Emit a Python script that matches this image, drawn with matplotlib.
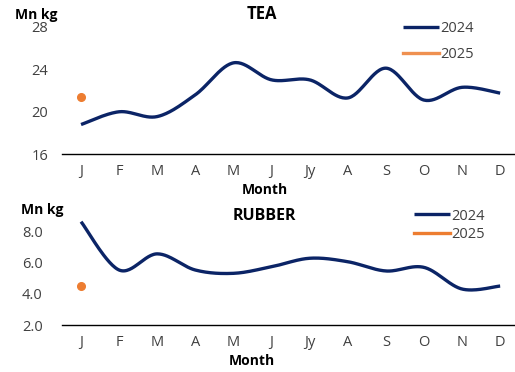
import numpy as np
import matplotlib
matplotlib.use("Agg")
import matplotlib.pyplot as plt

plt.rcParams['font.family'] = ['Open Sans', 'DejaVu Sans']

months = ["J", "F", "M", "A", "M", "J", "Jy", "A", "S", "O", "N", "D"]

tea_2024 = [18.8, 20.0, 19.55, 21.6, 24.6, 23.0, 23.0, 21.3, 24.1, 21.1, 22.3, 21.75]
tea_2025 = [21.4]

rubber_2024 = [8.6, 5.52, 6.55, 5.52, 5.31, 5.73, 6.27, 6.05, 5.46, 5.69, 4.31, 4.5]
rubber_2025 = [4.52]

tea_ticks = [16, 20, 24, 28]
rubber_ticks = [2.0, 4.0, 6.0, 8.0]

NAVY = "#0B2466"
ORANGE = "#ED7D31"
TEXT = "#404040"

W, H = 515, 372


def smooth(y, n=30):
    """Catmull-Rom curve through the points (x = 0..len-1)."""
    y = np.asarray(y, dtype=float)
    x = np.arange(len(y), dtype=float)
    px = np.concatenate([[x[0]], x, [x[-1]]])
    py = np.concatenate([[y[0]], y, [y[-1]]])
    xs, ys = [], []
    for i in range(1, len(px) - 2):
        t = np.linspace(0, 1, n, endpoint=False)
        for arr, out in ((px, xs), (py, ys)):
            p0, p1, p2, p3 = arr[i - 1], arr[i], arr[i + 1], arr[i + 2]
            out.append(0.5 * ((2 * p1) + (-p0 + p2) * t
                              + (2 * p0 - 5 * p1 + 4 * p2 - p3) * t ** 2
                              + (-p0 + 3 * p1 - 3 * p2 + p3) * t ** 3))
    xs.append([x[-1]])
    ys.append([y[-1]])
    return np.concatenate(xs), np.concatenate(ys)


def px_axes(left, top, right, bottom):
    return [left / W, 1 - bottom / H, (right - left) / W, (bottom - top) / H]


fig = plt.figure(figsize=(W / 100, H / 100), dpi=100)

ax1 = fig.add_axes(px_axes(62, 26.7, 515, 154.3))
ax2 = fig.add_axes(px_axes(62, 215.4, 515, 325.3))

spacing = 38.1
xmax = -0.5 + 453 / spacing


def style(ax, ticks, ylim, fmt, ypad):
    for s in ("top", "right", "left"):
        ax.spines[s].set_visible(False)
    ax.spines["bottom"].set_color("black")
    ax.spines["bottom"].set_linewidth(1.0)
    ax.set_xlim(-0.5, xmax)
    ax.set_ylim(*ylim)
    ax.set_xticks(range(len(months)))
    ax.set_xticklabels(months)
    ax.set_yticks(ticks)
    ax.set_yticklabels([fmt.format(t) for t in ticks])
    ax.tick_params(axis="x", length=0, pad=7, labelsize=10.5, labelcolor=TEXT)
    ax.tick_params(axis="y", length=0, pad=ypad, labelsize=10.5, labelcolor=TEXT)
    ax.patch.set_alpha(0)


style(ax1, tea_ticks, (16, 28), "{:.0f}", 10)
style(ax2, rubber_ticks, (2, 9), "{:.1f}", 14)

sx, sy = smooth(tea_2024)
ax1.plot(sx, sy, color=NAVY, lw=2.4, solid_capstyle="butt", label="2024")
ax1.plot(range(len(tea_2025)), tea_2025, "o", color=ORANGE, ms=5.5, label="_nolegend_")
ax1.plot([], [], color=ORANGE, lw=2.4, alpha=0.85, label="2025")

sx, sy = smooth(rubber_2024)
ax2.plot(sx, sy, color=NAVY, lw=2.4, solid_capstyle="butt", label="2024")
ax2.plot(range(len(rubber_2025)), rubber_2025, "o", color=ORANGE, ms=5.5, label="_nolegend_")
ax2.plot([], [], color=ORANGE, lw=2.4, label="2025")

leg_kw = dict(frameon=False, fontsize=10.5, handlelength=2.45, handletextpad=0.1,
              borderpad=0, borderaxespad=0, labelcolor=TEXT)
ax1.legend(loc="upper left", bbox_to_anchor=(403 / W, 1 - 21 / H),
           bbox_transform=fig.transFigure, labelspacing=0.75, **leg_kw)
ax2.legend(loc="upper left", bbox_to_anchor=(414 / W, 1 - 208.5 / H),
           bbox_transform=fig.transFigure, labelspacing=0.25, **leg_kw)

fig.text(262 / W, 1 - 14 / H, "TEA", ha="center", va="center",
         fontsize=12, fontweight="bold", color="black")
fig.text(264 / W, 1 - 216 / H, "RUBBER", ha="center", va="center",
         fontsize=11.5, fontweight="bold", color="black")

fig.text(15 / W, 1 - 15 / H, "Mn kg", ha="left", va="center",
         fontsize=10, fontweight="bold", color="black")
fig.text(21 / W, 1 - 210 / H, "Mn kg", ha="left", va="center",
         fontsize=10, fontweight="bold", color="black")

fig.text(265 / W, 1 - 190 / H, "Month", ha="center", va="center",
         fontsize=10, fontweight="bold", color="black")
fig.text(252 / W, 1 - 361 / H, "Month", ha="center", va="center",
         fontsize=10, fontweight="bold", color="black")

fig.savefig("out.png", dpi=100)
